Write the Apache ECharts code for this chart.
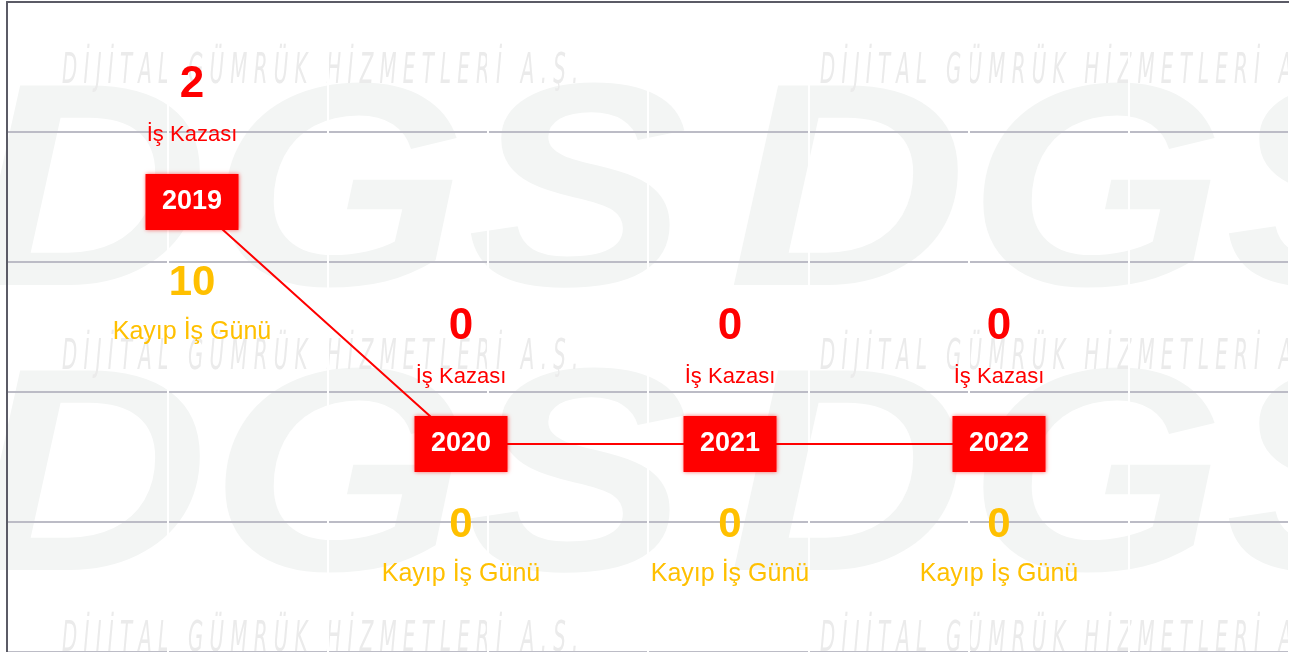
<!DOCTYPE html>
<html lang="tr">
<head>
<meta charset="utf-8">
<title>İş Kazası</title>
<script src="https://cdn.jsdelivr.net/npm/echarts@6.0.0/dist/echarts.min.js"></script>
<style>
  html, body { margin: 0; padding: 0; background: #ffffff; }
  #chart { width: 1289px; height: 652px; }
</style>
</head>
<body>
<div id="chart"></div>
<script>
const years = ['2019', '2020', '2021', '2022'];
const accidents = [2, 0, 0, 0];
const lostDays = [10, 0, 0, 0];
const accidentLabel = 'İş Kazası';
const lostDayLabel = 'Kayıp İş Günü';
const watermarkText = 'DİJİTAL GÜMRÜK HİZMETLERİ A.Ş.';
const logoText = 'DGS';

const RED = '#ff0000';
const YELLOW = '#ffc000';
const FONT = '"Liberation Sans", Arial, sans-serif';

function buildWatermark() {
  const items = [];
  // big logo letters, very light
  [205, 490].forEach((cy) => {
    [-30, 728].forEach((x) => {
      items.push({
        type: 'text',
        x,
        y: cy,
        scaleX: 1.2,
        scaleY: 1.05,
        z: 0,
        silent: true,
        style: {
          text: logoText,
          fill: '#f3f5f4',
          font: 'italic 900 276px ' + FONT,
          textVerticalAlign: 'middle'
        }
      });
    });
  });
  // company name rows
  const spaced = watermarkText.split('').join(' ');
  [72, 358, 640].forEach((cy) => {
    [62, 820].forEach((x) => {
      items.push({
        type: 'text',
        x,
        y: cy,
        scaleY: 1.9,
        z: 0,
        silent: true,
        style: {
          text: spaced,
          fill: '#ebebeb',
          font: 'italic 22px "DejaVu Sans Condensed", "DejaVu Sans", sans-serif',
          textVerticalAlign: 'middle'
        }
      });
    });
  });
  return items;
}

const option = {
  backgroundColor: '#ffffff',
  animation: false,
  graphic: { elements: buildWatermark() },
  grid: [
    { left: 192, right: 290, top: 202, bottom: 208 },
    { left: 7, right: -10, top: 2, bottom: -3 }
  ],
  xAxis: [
    {
      type: 'category',
      gridIndex: 0,
      data: years,
      boundaryGap: false,
      show: false
    },
    {
      type: 'value',
      gridIndex: 1,
      min: 0,
      max: 8,
      interval: 1,
      position: 'top',
      z: 2,
      axisLine: { show: true, onZero: false, lineStyle: { color: '#5b5b66', width: 2 } },
      axisTick: { show: false },
      axisLabel: { show: false },
      splitLine: { show: true, showMinLine: false, lineStyle: { color: '#ffffff', width: 2 } }
    }
  ],
  yAxis: [
    {
      type: 'value',
      gridIndex: 0,
      min: 0,
      max: 2,
      show: false
    },
    {
      type: 'value',
      gridIndex: 1,
      min: 0,
      max: 5,
      interval: 1,
      position: 'left',
      z: 1,
      axisLine: { show: true, onZero: false, lineStyle: { color: '#5b5b66', width: 2 } },
      axisTick: { show: false },
      axisLabel: { show: false },
      splitLine: { show: true, lineStyle: { color: '#bcbcc6', width: 2 } }
    }
  ],
  series: [
    {
      name: accidentLabel,
      type: 'line',
      xAxisIndex: 0,
      yAxisIndex: 0,
      data: accidents,
      z: 10,
      symbol: 'rect',
      symbolSize: [93, 56],
      showAllSymbol: true,
      lineStyle: { color: RED, width: 2 },
      itemStyle: {
        color: RED,
        opacity: 1,
        shadowBlur: 4,
        shadowColor: 'rgba(255, 0, 0, 0.6)'
      },
      label: {
        show: true,
        position: 'inside',
        formatter: (p) => years[p.dataIndex],
        color: '#ffffff',
        fontFamily: FONT,
        fontWeight: 'bold',
        fontSize: 27
      },
      emphasis: { disabled: true }
    },
    {
      name: 'accidentText',
      type: 'scatter',
      xAxisIndex: 0,
      yAxisIndex: 0,
      data: accidents,
      z: 11,
      silent: true,
      symbolSize: 1,
      itemStyle: { color: 'transparent', opacity: 1 },
      label: {
        show: true,
        position: 'inside',
        offset: [0, -97],
        formatter: (p) => `{n|${accidents[p.dataIndex]}}\n{t|${accidentLabel}}`,
        rich: {
          n: { fontFamily: FONT, fontSize: 44, fontWeight: 'bold', color: RED, lineHeight: 60 },
          t: { fontFamily: FONT, fontSize: 22, color: RED, lineHeight: 40 }
        }
      }
    },
    {
      name: 'lostDayText',
      type: 'scatter',
      xAxisIndex: 0,
      yAxisIndex: 0,
      data: accidents,
      z: 11,
      silent: true,
      symbolSize: 1,
      itemStyle: { color: 'transparent', opacity: 1 },
      label: {
        show: true,
        position: 'inside',
        offset: [0, 100],
        formatter: (p) => `{n|${lostDays[p.dataIndex]}}\n{t|${lostDayLabel}}`,
        rich: {
          n: { fontFamily: FONT, fontSize: 42, fontWeight: 'bold', color: YELLOW, lineHeight: 60 },
          t: { fontFamily: FONT, fontSize: 25, color: YELLOW, lineHeight: 38 }
        }
      }
    }
  ]
};

const chart = echarts.init(document.getElementById('chart'));
chart.setOption(option);
window.addEventListener('resize', () => chart.resize());
</script>
</body>
</html>
